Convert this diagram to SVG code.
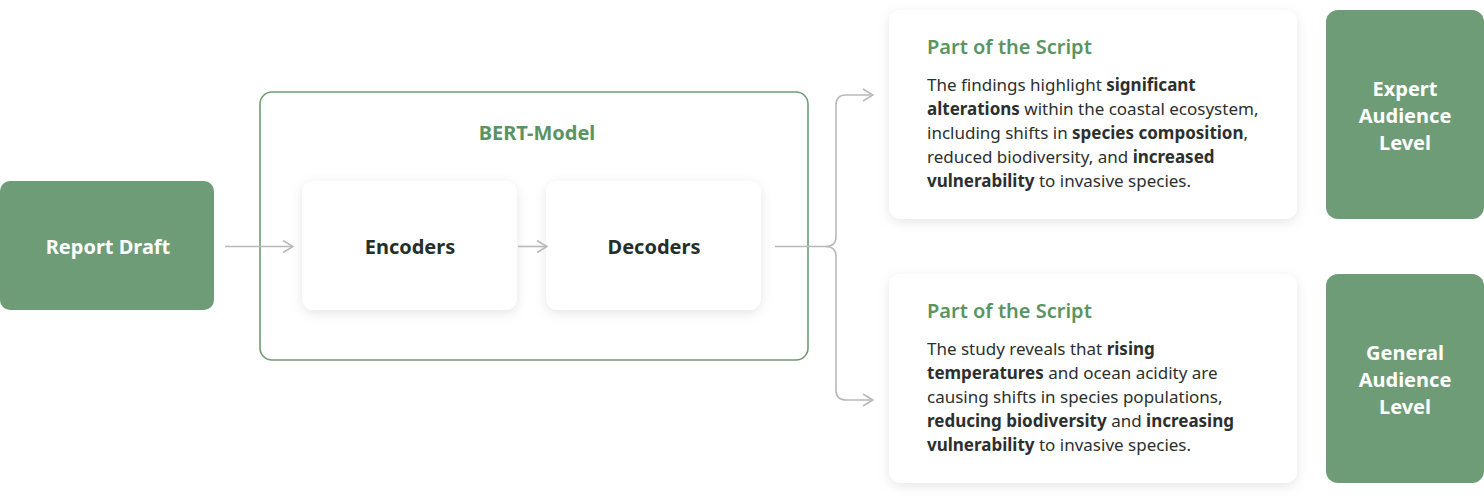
<svg xmlns="http://www.w3.org/2000/svg" width="1484" height="502" viewBox="0 0 1484 502">
<defs>
<filter id="sh" x="-20%" y="-20%" width="140%" height="150%">
<feDropShadow dx="0" dy="3" stdDeviation="6" flood-color="#000" flood-opacity="0.10"/>
</filter>
<marker id="ar" viewBox="0 0 12 14" refX="11" refY="7" markerWidth="12" markerHeight="14" markerUnits="userSpaceOnUse" orient="auto">
<path d="M1,1 L11,7 L1,13" fill="none" stroke="#b9b9b9" stroke-width="1.6"/>
</marker>
<style>
text{font-family:"Noto Sans","Open Sans","Liberation Sans",sans-serif}
.gbox{fill:#6e9c76}
.card{fill:#ffffff;filter:url(#sh)}
.wt{fill:#ffffff;font-weight:700;font-size:20px;text-anchor:middle}
.dk{fill:#23302a;font-weight:700;font-size:20px;text-anchor:middle}
.ttl{fill:#5a9462;font-weight:600;font-size:20px}
.body{fill:#2b302e;font-size:17px}
.b{font-weight:700}
.conn{fill:none;stroke:#b9b9b9;stroke-width:1.6}
</style>
</defs>
<rect width="1484" height="502" fill="#ffffff"/>
<g id="bert-model">
<rect x="260" y="92" width="548" height="268" rx="12" fill="none" stroke="#6e9c76" stroke-width="1.6"/>
<text x="537" y="140" text-anchor="middle" style="fill:#5a9462;font-weight:700;font-size:20px">BERT-Model</text>
</g>
<g id="report-draft">
<rect class="gbox" x="0" y="181" width="214" height="129" rx="10"/>
<text class="wt" x="108" y="254">Report Draft</text>
</g>
<g id="encoders">
<rect class="card" x="302" y="181" width="215" height="129" rx="12"/>
<text class="dk" x="410" y="254">Encoders</text>
</g>
<g id="decoders">
<rect class="card" x="546" y="181" width="215" height="129" rx="12"/>
<text class="dk" x="654" y="254">Decoders</text>
</g>
<g id="script-expert">
<rect class="card" x="889" y="10" width="408" height="209" rx="12"/>
<text class="ttl" x="927" y="54">Part of the Script</text>
<text class="body" x="927" y="91">The findings highlight <tspan class="b">significant</tspan></text>
<text class="body" x="927" y="115"><tspan class="b">alterations</tspan> within the coastal ecosystem,</text>
<text class="body" x="927" y="139">including shifts in <tspan class="b">species composition</tspan>,</text>
<text class="body" x="927" y="163">reduced biodiversity, and <tspan class="b">increased</tspan></text>
<text class="body" x="927" y="187"><tspan class="b">vulnerability</tspan> to invasive species.</text>
</g>
<g id="expert-level">
<rect class="gbox" x="1326" y="10" width="158" height="209" rx="12"/>
<text class="wt" x="1405" y="96">Expert</text>
<text class="wt" x="1405" y="123">Audience</text>
<text class="wt" x="1405" y="150">Level</text>
</g>
<g id="script-general">
<rect class="card" x="889" y="274" width="408" height="209" rx="12"/>
<text class="ttl" x="927" y="318">Part of the Script</text>
<text class="body" x="927" y="355">The study reveals that <tspan class="b">rising</tspan></text>
<text class="body" x="927" y="379"><tspan class="b">temperatures</tspan> and ocean acidity are</text>
<text class="body" x="927" y="403">causing shifts in species populations,</text>
<text class="body" x="927" y="427"><tspan class="b">reducing biodiversity</tspan> and <tspan class="b">increasing</tspan></text>
<text class="body" x="927" y="451"><tspan class="b">vulnerability</tspan> to invasive species.</text>
</g>
<g id="general-level">
<rect class="gbox" x="1326" y="274" width="158" height="209" rx="12"/>
<text class="wt" x="1405" y="360">General</text>
<text class="wt" x="1405" y="387">Audience</text>
<text class="wt" x="1405" y="414">Level</text>
</g>
<g id="connectors">
<path class="conn" d="M225,246.5 H293" marker-end="url(#ar)"/>
<path class="conn" d="M518,246.5 H547" marker-end="url(#ar)"/>
<path class="conn" d="M775,246.5 H826 Q836,246.5 836,236.5 V105 Q836,95 846,95 H873" marker-end="url(#ar)"/>
<path class="conn" d="M826,246.5 Q836,246.5 836,256.5 V390 Q836,400 846,400 H873" marker-end="url(#ar)"/>
</g>
</svg>
